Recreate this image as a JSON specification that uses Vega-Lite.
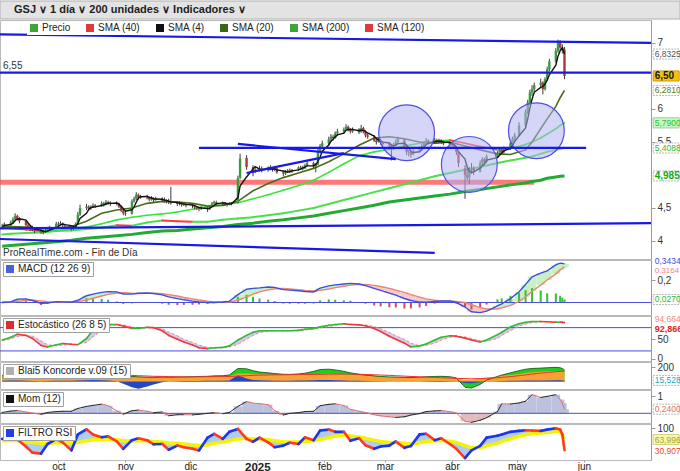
{
"$schema": "https://vega.github.io/schema/vega-lite/v6.json",
"padding": {"left": -11, "top": 0, "right": 0, "bottom": 0},
"background": "#ffffff",
"spacing": 1,
"bounds": "flush",
"center": false,
"resolve": {"scale": {"color": "independent", "fill": "independent"}, "legend": {"color": "independent", "fill": "independent"}},
"config": {
  "font": "Liberation Sans",
  "view": {"stroke": "#b9b9b9"},
  "scale": {"continuousPadding": 0},
  "axis": {"grid": false, "labelFontSize": 10, "labelColor": "#333333", "tickColor": "#9a9a9a", "domainColor": "#9a9a9a", "tickSize": 4, "labelPadding": 2, "labelFlush": false, "labelOverlap": false},
  "legend": {"orient": "none", "direction": "horizontal", "symbolType": "square", "symbolSize": 64, "symbolStrokeWidth": 0, "labelFontSize": 10, "labelColor": "#222222", "padding": 2, "labelOffset": 3}
},
"datasets": {
  "px": [
    {"d":"2024-09-05","o":4.20,"h":4.26,"l":4.18,"c":4.22},
    {"d":"2024-09-06","o":4.22,"h":4.28,"l":4.20,"c":4.25},
    {"d":"2024-09-09","o":4.25,"h":4.31,"l":4.23,"c":4.28},
    {"d":"2024-09-10","o":4.28,"h":4.36,"l":4.26,"c":4.33},
    {"d":"2024-09-11","o":4.33,"h":4.42,"l":4.30,"c":4.38},
    {"d":"2024-09-12","o":4.38,"h":4.40,"l":4.31,"c":4.34},
    {"d":"2024-09-13","o":4.34,"h":4.36,"l":4.27,"c":4.30},
    {"d":"2024-09-16","o":4.30,"h":4.31,"l":4.22,"c":4.24},
    {"d":"2024-09-17","o":4.24,"h":4.27,"l":4.19,"c":4.21},
    {"d":"2024-09-18","o":4.21,"h":4.24,"l":4.16,"c":4.19},
    {"d":"2024-09-19","o":4.19,"h":4.23,"l":4.15,"c":4.17},
    {"d":"2024-09-20","o":4.17,"h":4.19,"l":4.12,"c":4.15},
    {"d":"2024-09-23","o":4.15,"h":4.18,"l":4.11,"c":4.14},
    {"d":"2024-09-24","o":4.14,"h":4.17,"l":4.10,"c":4.13},
    {"d":"2024-09-25","o":4.13,"h":4.18,"l":4.12,"c":4.15},
    {"d":"2024-09-26","o":4.15,"h":4.21,"l":4.14,"c":4.18},
    {"d":"2024-09-27","o":4.18,"h":4.23,"l":4.16,"c":4.20},
    {"d":"2024-09-30","o":4.20,"h":4.29,"l":4.19,"c":4.26},
    {"d":"2024-10-01","o":4.26,"h":4.29,"l":4.22,"c":4.25},
    {"d":"2024-10-02","o":4.25,"h":4.30,"l":4.23,"c":4.27},
    {"d":"2024-10-03","o":4.27,"h":4.28,"l":4.21,"c":4.24},
    {"d":"2024-10-04","o":4.24,"h":4.26,"l":4.20,"c":4.23},
    {"d":"2024-10-07","o":4.23,"h":4.24,"l":4.16,"c":4.19},
    {"d":"2024-10-08","o":4.19,"h":4.23,"l":4.17,"c":4.21},
    {"d":"2024-10-09","o":4.21,"h":4.28,"l":4.20,"c":4.26},
    {"d":"2024-10-10","o":4.26,"h":4.44,"l":4.25,"c":4.40},
    {"d":"2024-10-11","o":4.40,"h":4.55,"l":4.38,"c":4.50},
    {"d":"2024-10-14","o":4.50,"h":4.56,"l":4.47,"c":4.52},
    {"d":"2024-10-15","o":4.52,"h":4.54,"l":4.46,"c":4.49},
    {"d":"2024-10-16","o":4.49,"h":4.54,"l":4.47,"c":4.51},
    {"d":"2024-10-17","o":4.51,"h":4.57,"l":4.50,"c":4.54},
    {"d":"2024-10-18","o":4.54,"h":4.56,"l":4.50,"c":4.53},
    {"d":"2024-10-21","o":4.53,"h":4.60,"l":4.52,"c":4.57},
    {"d":"2024-10-22","o":4.57,"h":4.59,"l":4.52,"c":4.55},
    {"d":"2024-10-23","o":4.55,"h":4.62,"l":4.54,"c":4.59},
    {"d":"2024-10-24","o":4.59,"h":4.61,"l":4.55,"c":4.58},
    {"d":"2024-10-25","o":4.58,"h":4.60,"l":4.53,"c":4.56},
    {"d":"2024-10-28","o":4.56,"h":4.60,"l":4.54,"c":4.57},
    {"d":"2024-10-29","o":4.57,"h":4.58,"l":4.50,"c":4.52},
    {"d":"2024-10-30","o":4.52,"h":4.54,"l":4.44,"c":4.46},
    {"d":"2024-10-31","o":4.46,"h":4.48,"l":4.39,"c":4.42},
    {"d":"2024-11-01","o":4.42,"h":4.45,"l":4.38,"c":4.41},
    {"d":"2024-11-04","o":4.41,"h":4.63,"l":4.40,"c":4.60},
    {"d":"2024-11-05","o":4.60,"h":4.67,"l":4.58,"c":4.64},
    {"d":"2024-11-06","o":4.64,"h":4.74,"l":4.62,"c":4.70},
    {"d":"2024-11-07","o":4.70,"h":4.72,"l":4.63,"c":4.66},
    {"d":"2024-11-08","o":4.66,"h":4.70,"l":4.64,"c":4.68},
    {"d":"2024-11-11","o":4.68,"h":4.70,"l":4.63,"c":4.66},
    {"d":"2024-11-12","o":4.66,"h":4.68,"l":4.60,"c":4.63},
    {"d":"2024-11-13","o":4.63,"h":4.68,"l":4.61,"c":4.65},
    {"d":"2024-11-14","o":4.65,"h":4.66,"l":4.59,"c":4.62},
    {"d":"2024-11-15","o":4.62,"h":4.67,"l":4.61,"c":4.64},
    {"d":"2024-11-18","o":4.64,"h":4.66,"l":4.59,"c":4.62},
    {"d":"2024-11-19","o":4.62,"h":4.66,"l":4.58,"c":4.60},
    {"d":"2024-11-20","o":4.60,"h":4.63,"l":4.57,"c":4.60},
    {"d":"2024-11-21","o":4.60,"h":4.64,"l":4.56,"c":4.59},
    {"d":"2024-11-22","o":4.59,"h":4.82,"l":4.55,"c":4.58},
    {"d":"2024-11-25","o":4.58,"h":4.60,"l":4.53,"c":4.56},
    {"d":"2024-11-26","o":4.56,"h":4.60,"l":4.54,"c":4.57},
    {"d":"2024-11-27","o":4.57,"h":4.59,"l":4.52,"c":4.55},
    {"d":"2024-11-28","o":4.55,"h":4.58,"l":4.53,"c":4.56},
    {"d":"2024-11-29","o":4.56,"h":4.57,"l":4.51,"c":4.54},
    {"d":"2024-12-02","o":4.54,"h":4.56,"l":4.50,"c":4.53},
    {"d":"2024-12-03","o":4.53,"h":4.55,"l":4.48,"c":4.51},
    {"d":"2024-12-04","o":4.51,"h":4.53,"l":4.47,"c":4.50},
    {"d":"2024-12-05","o":4.50,"h":4.52,"l":4.45,"c":4.49},
    {"d":"2024-12-06","o":4.49,"h":4.53,"l":4.47,"c":4.50},
    {"d":"2024-12-09","o":4.50,"h":4.51,"l":4.44,"c":4.48},
    {"d":"2024-12-10","o":4.48,"h":4.54,"l":4.47,"c":4.52},
    {"d":"2024-12-11","o":4.52,"h":4.59,"l":4.51,"c":4.57},
    {"d":"2024-12-12","o":4.57,"h":4.61,"l":4.55,"c":4.59},
    {"d":"2024-12-13","o":4.59,"h":4.61,"l":4.55,"c":4.58},
    {"d":"2024-12-16","o":4.58,"h":4.60,"l":4.54,"c":4.57},
    {"d":"2024-12-17","o":4.57,"h":4.59,"l":4.53,"c":4.56},
    {"d":"2024-12-18","o":4.56,"h":4.58,"l":4.52,"c":4.55},
    {"d":"2024-12-19","o":4.55,"h":4.59,"l":4.54,"c":4.57},
    {"d":"2024-12-20","o":4.57,"h":4.59,"l":4.54,"c":4.56},
    {"d":"2024-12-23","o":4.58,"h":4.99,"l":4.57,"c":4.95},
    {"d":"2024-12-24","o":4.96,"h":5.32,"l":4.94,"c":5.25},
    {"d":"2024-12-27","o":5.26,"h":5.30,"l":5.08,"c":5.12},
    {"d":"2024-12-30","o":5.12,"h":5.15,"l":4.98,"c":5.05},
    {"d":"2024-12-31","o":5.05,"h":5.12,"l":5.03,"c":5.08},
    {"d":"2025-01-02","o":5.08,"h":5.14,"l":5.05,"c":5.10},
    {"d":"2025-01-03","o":5.10,"h":5.13,"l":5.04,"c":5.07},
    {"d":"2025-01-06","o":5.07,"h":5.13,"l":5.05,"c":5.11},
    {"d":"2025-01-07","o":5.11,"h":5.15,"l":5.07,"c":5.09},
    {"d":"2025-01-08","o":5.09,"h":5.12,"l":5.05,"c":5.08},
    {"d":"2025-01-09","o":5.08,"h":5.13,"l":5.06,"c":5.10},
    {"d":"2025-01-10","o":5.10,"h":5.11,"l":5.02,"c":5.04},
    {"d":"2025-01-13","o":5.04,"h":5.06,"l":4.98,"c":5.02},
    {"d":"2025-01-14","o":5.02,"h":5.07,"l":5.00,"c":5.05},
    {"d":"2025-01-15","o":5.05,"h":5.09,"l":5.03,"c":5.07},
    {"d":"2025-01-16","o":5.07,"h":5.10,"l":5.03,"c":5.05},
    {"d":"2025-01-17","o":5.05,"h":5.09,"l":5.03,"c":5.08},
    {"d":"2025-01-20","o":5.08,"h":5.13,"l":5.06,"c":5.11},
    {"d":"2025-01-21","o":5.11,"h":5.14,"l":5.08,"c":5.12},
    {"d":"2025-01-22","o":5.12,"h":5.14,"l":5.07,"c":5.10},
    {"d":"2025-01-23","o":5.10,"h":5.17,"l":5.09,"c":5.15},
    {"d":"2025-01-24","o":5.15,"h":5.21,"l":5.13,"c":5.18},
    {"d":"2025-01-27","o":5.18,"h":5.20,"l":5.10,"c":5.13},
    {"d":"2025-01-28","o":5.13,"h":5.18,"l":5.04,"c":5.16},
    {"d":"2025-01-29","o":5.16,"h":5.40,"l":5.15,"c":5.36},
    {"d":"2025-01-30","o":5.36,"h":5.47,"l":5.33,"c":5.44},
    {"d":"2025-01-31","o":5.44,"h":5.52,"l":5.40,"c":5.48},
    {"d":"2025-02-03","o":5.48,"h":5.58,"l":5.45,"c":5.54},
    {"d":"2025-02-04","o":5.54,"h":5.62,"l":5.52,"c":5.58},
    {"d":"2025-02-05","o":5.58,"h":5.61,"l":5.52,"c":5.56},
    {"d":"2025-02-06","o":5.56,"h":5.66,"l":5.55,"c":5.63},
    {"d":"2025-02-07","o":5.63,"h":5.70,"l":5.60,"c":5.66},
    {"d":"2025-02-10","o":5.66,"h":5.72,"l":5.63,"c":5.69},
    {"d":"2025-02-11","o":5.69,"h":5.77,"l":5.67,"c":5.73},
    {"d":"2025-02-12","o":5.73,"h":5.75,"l":5.66,"c":5.68},
    {"d":"2025-02-13","o":5.68,"h":5.71,"l":5.63,"c":5.66},
    {"d":"2025-02-14","o":5.66,"h":5.72,"l":5.64,"c":5.69},
    {"d":"2025-02-17","o":5.69,"h":5.71,"l":5.62,"c":5.65},
    {"d":"2025-02-18","o":5.65,"h":5.76,"l":5.64,"c":5.71},
    {"d":"2025-02-19","o":5.71,"h":5.73,"l":5.63,"c":5.66},
    {"d":"2025-02-20","o":5.66,"h":5.68,"l":5.57,"c":5.60},
    {"d":"2025-02-21","o":5.60,"h":5.63,"l":5.55,"c":5.58},
    {"d":"2025-02-24","o":5.58,"h":5.60,"l":5.50,"c":5.52},
    {"d":"2025-02-25","o":5.52,"h":5.55,"l":5.46,"c":5.50},
    {"d":"2025-02-26","o":5.50,"h":5.56,"l":5.49,"c":5.53},
    {"d":"2025-02-27","o":5.53,"h":5.55,"l":5.46,"c":5.49},
    {"d":"2025-02-28","o":5.49,"h":5.51,"l":5.44,"c":5.47},
    {"d":"2025-03-03","o":5.47,"h":5.50,"l":5.38,"c":5.45},
    {"d":"2025-03-04","o":5.45,"h":5.47,"l":5.22,"c":5.40},
    {"d":"2025-03-05","o":5.40,"h":5.49,"l":5.38,"c":5.46},
    {"d":"2025-03-06","o":5.46,"h":5.54,"l":5.44,"c":5.50},
    {"d":"2025-03-07","o":5.50,"h":5.58,"l":5.47,"c":5.54},
    {"d":"2025-03-10","o":5.54,"h":5.55,"l":5.40,"c":5.42},
    {"d":"2025-03-11","o":5.42,"h":5.44,"l":5.30,"c":5.35},
    {"d":"2025-03-12","o":5.35,"h":5.38,"l":5.28,"c":5.34},
    {"d":"2025-03-13","o":5.34,"h":5.36,"l":5.26,"c":5.31},
    {"d":"2025-03-14","o":5.31,"h":5.39,"l":5.30,"c":5.36},
    {"d":"2025-03-17","o":5.36,"h":5.43,"l":5.34,"c":5.40},
    {"d":"2025-03-18","o":5.40,"h":5.47,"l":5.38,"c":5.44},
    {"d":"2025-03-19","o":5.44,"h":5.50,"l":5.42,"c":5.47},
    {"d":"2025-03-20","o":5.47,"h":5.56,"l":5.45,"c":5.52},
    {"d":"2025-03-21","o":5.52,"h":5.54,"l":5.46,"c":5.49},
    {"d":"2025-03-24","o":5.49,"h":5.56,"l":5.48,"c":5.53},
    {"d":"2025-03-25","o":5.53,"h":5.55,"l":5.47,"c":5.50},
    {"d":"2025-03-26","o":5.50,"h":5.55,"l":5.48,"c":5.52},
    {"d":"2025-03-27","o":5.52,"h":5.54,"l":5.47,"c":5.50},
    {"d":"2025-03-28","o":5.50,"h":5.52,"l":5.45,"c":5.48},
    {"d":"2025-03-31","o":5.48,"h":5.50,"l":5.42,"c":5.47},
    {"d":"2025-04-01","o":5.47,"h":5.50,"l":5.42,"c":5.45},
    {"d":"2025-04-02","o":5.45,"h":5.48,"l":5.40,"c":5.43},
    {"d":"2025-04-03","o":5.43,"h":5.44,"l":5.30,"c":5.35},
    {"d":"2025-04-04","o":5.35,"h":5.36,"l":5.12,"c":5.18},
    {"d":"2025-04-07","o":5.10,"h":5.15,"l":4.64,"c":5.00},
    {"d":"2025-04-08","o":5.00,"h":5.12,"l":4.92,"c":4.96},
    {"d":"2025-04-09","o":4.96,"h":5.12,"l":4.86,"c":5.08},
    {"d":"2025-04-10","o":5.08,"h":5.18,"l":5.02,"c":5.10},
    {"d":"2025-04-11","o":5.10,"h":5.13,"l":5.00,"c":5.05},
    {"d":"2025-04-14","o":5.05,"h":5.22,"l":5.04,"c":5.18},
    {"d":"2025-04-15","o":5.18,"h":5.27,"l":5.15,"c":5.24},
    {"d":"2025-04-16","o":5.24,"h":5.26,"l":5.15,"c":5.20},
    {"d":"2025-04-17","o":5.20,"h":5.31,"l":5.18,"c":5.28},
    {"d":"2025-04-22","o":5.28,"h":5.36,"l":5.26,"c":5.33},
    {"d":"2025-04-23","o":5.33,"h":5.41,"l":5.31,"c":5.38},
    {"d":"2025-04-24","o":5.38,"h":5.40,"l":5.31,"c":5.35},
    {"d":"2025-04-25","o":5.35,"h":5.43,"l":5.33,"c":5.40},
    {"d":"2025-04-28","o":5.40,"h":5.51,"l":5.38,"c":5.48},
    {"d":"2025-04-29","o":5.48,"h":5.58,"l":5.46,"c":5.55},
    {"d":"2025-04-30","o":5.55,"h":5.64,"l":5.52,"c":5.60},
    {"d":"2025-05-02","o":5.60,"h":5.80,"l":5.58,"c":5.75},
    {"d":"2025-05-05","o":5.75,"h":5.99,"l":5.73,"c":5.95},
    {"d":"2025-05-06","o":5.95,"h":6.14,"l":5.92,"c":6.10},
    {"d":"2025-05-07","o":6.10,"h":6.29,"l":6.06,"c":6.25},
    {"d":"2025-05-08","o":6.25,"h":6.36,"l":6.20,"c":6.30},
    {"d":"2025-05-09","o":6.30,"h":6.40,"l":6.26,"c":6.36},
    {"d":"2025-05-12","o":6.36,"h":6.46,"l":6.32,"c":6.40},
    {"d":"2025-05-13","o":6.40,"h":6.42,"l":6.22,"c":6.30},
    {"d":"2025-05-14","o":6.30,"h":6.48,"l":6.28,"c":6.45},
    {"d":"2025-05-15","o":6.45,"h":6.64,"l":6.43,"c":6.60},
    {"d":"2025-05-16","o":6.60,"h":6.76,"l":6.57,"c":6.72},
    {"d":"2025-05-19","o":6.72,"h":6.92,"l":6.70,"c":6.88},
    {"d":"2025-05-20","o":6.88,"h":7.05,"l":6.85,"c":7.00},
    {"d":"2025-05-21","o":7.00,"h":7.04,"l":6.88,"c":6.93},
    {"d":"2025-05-22","o":6.93,"h":6.98,"l":6.84,"c":6.90},
    {"d":"2025-05-23","o":6.90,"h":6.94,"l":6.45,"c":6.50}
  ],
  "sm": [
    {"d":"2024-09-05","s20":4.22,"s40":4.20,"s120":4.10,"s200":3.92},
    {"d":"2024-09-09","s20":4.22,"s40":4.19,"s120":4.11,"s200":3.93},
    {"d":"2024-09-16","s20":4.21,"s40":4.17,"s120":4.12,"s200":3.95},
    {"d":"2024-09-23","s20":4.19,"s40":4.15,"s120":4.13,"s200":3.97},
    {"d":"2024-09-30","s20":4.19,"s40":4.16,"s120":4.15,"s200":3.99},
    {"d":"2024-10-07","s20":4.22,"s40":4.18,"s120":4.16,"s200":4.01},
    {"d":"2024-10-14","s20":4.30,"s40":4.21,"s120":4.18,"s200":4.04},
    {"d":"2024-10-21","s20":4.42,"s40":4.26,"s120":4.20,"s200":4.06},
    {"d":"2024-10-28","s20":4.47,"s40":4.32,"s120":4.24,"s200":4.08},
    {"d":"2024-11-04","s20":4.50,"s40":4.36,"s120":4.23,"s200":4.10},
    {"d":"2024-11-11","s20":4.57,"s40":4.39,"s120":4.28,"s200":4.13},
    {"d":"2024-11-18","s20":4.60,"s40":4.41,"s120":4.31,"s200":4.15},
    {"d":"2024-11-25","s20":4.59,"s40":4.44,"s120":4.30,"s200":4.16},
    {"d":"2024-12-02","s20":4.57,"s40":4.48,"s120":4.29,"s200":4.18},
    {"d":"2024-12-09","s20":4.53,"s40":4.52,"s120":4.29,"s200":4.20},
    {"d":"2024-12-16","s20":4.54,"s40":4.55,"s120":4.32,"s200":4.22},
    {"d":"2024-12-23","s20":4.60,"s40":4.58,"s120":4.34,"s200":4.25},
    {"d":"2024-12-30","s20":4.76,"s40":4.64,"s120":4.36,"s200":4.27},
    {"d":"2025-01-06","s20":4.87,"s40":4.70,"s120":4.39,"s200":4.30},
    {"d":"2025-01-13","s20":4.96,"s40":4.77,"s120":4.42,"s200":4.32},
    {"d":"2025-01-20","s20":5.03,"s40":4.84,"s120":4.46,"s200":4.35},
    {"d":"2025-01-27","s20":5.10,"s40":4.92,"s120":4.50,"s200":4.38},
    {"d":"2025-02-03","s20":5.20,"s40":5.04,"s120":4.56,"s200":4.42},
    {"d":"2025-02-10","s20":5.32,"s40":5.17,"s120":4.62,"s200":4.46},
    {"d":"2025-02-17","s20":5.45,"s40":5.29,"s120":4.68,"s200":4.50},
    {"d":"2025-02-24","s20":5.56,"s40":5.35,"s120":4.74,"s200":4.54},
    {"d":"2025-03-03","s20":5.58,"s40":5.39,"s120":4.80,"s200":4.59},
    {"d":"2025-03-10","s20":5.55,"s40":5.44,"s120":4.86,"s200":4.62},
    {"d":"2025-03-17","s20":5.50,"s40":5.48,"s120":4.92,"s200":4.65},
    {"d":"2025-03-24","s20":5.48,"s40":5.51,"s120":4.98,"s200":4.68},
    {"d":"2025-03-31","s20":5.50,"s40":5.53,"s120":5.03,"s200":4.71},
    {"d":"2025-04-07","s20":5.44,"s40":5.48,"s120":5.08,"s200":4.75},
    {"d":"2025-04-14","s20":5.38,"s40":5.43,"s120":5.12,"s200":4.78},
    {"d":"2025-04-22","s20":5.32,"s40":5.38,"s120":5.18,"s200":4.82},
    {"d":"2025-04-28","s20":5.31,"s40":5.40,"s120":5.22,"s200":4.85},
    {"d":"2025-05-05","s20":5.38,"s40":5.46,"s120":5.26,"s200":4.88},
    {"d":"2025-05-08","s20":5.50,"s40":5.50,"s120":5.28,"s200":4.90},
    {"d":"2025-05-12","s20":5.70,"s40":5.56,"s120":5.32,"s200":4.92},
    {"d":"2025-05-15","s20":5.85,"s40":5.62,"s120":5.35,"s200":4.95},
    {"d":"2025-05-19","s20":6.04,"s40":5.70,"s120":5.38,"s200":4.97},
    {"d":"2025-05-21","s20":6.17,"s40":5.75,"s120":5.40,"s200":4.98},
    {"d":"2025-05-23","s20":6.281,"s40":5.79,"s120":5.4088,"s200":4.985}
  ],
  "tl": [
    {"id":"a","d":"2024-09-04","v":7.13},{"id":"a","d":"2025-07-02","v":7.0},
    {"id":"b","d":"2024-09-04","v":6.55},{"id":"b","d":"2025-07-02","v":6.55},
    {"id":"c","d":"2024-12-05","v":5.41},{"id":"c","d":"2025-06-02","v":5.41},
    {"id":"e","d":"2024-12-23","v":5.47},{"id":"e","d":"2025-03-06","v":5.24},
    {"id":"f","d":"2024-12-27","v":5.03},{"id":"f","d":"2025-02-10","v":5.33},
    {"id":"g","d":"2024-09-04","v":4.19},{"id":"g","d":"2025-07-02","v":4.27},
    {"id":"h","d":"2024-09-04","v":4.03},{"id":"h","d":"2025-03-24","v":3.82}
  ],
  "ind": [
    {"d":"2024-09-05","m":0.000,"s":0.005,"h":-0.005,"k":48,"kd":46,"mo":0.05,"r":66,"rs":60,"kg":85,"ko":70,"kb":12,"kr":60},
    {"d":"2024-09-09","m":0.005,"s":0.004,"h":0.001,"k":55,"kd":51,"mo":0.13,"r":68,"rs":61,"kg":90,"ko":75,"kb":14,"kr":62},
    {"d":"2024-09-12","m":0.030,"s":0.010,"h":0.020,"k":63,"kd":57,"mo":0.16,"r":64,"rs":61,"kg":100,"ko":78,"kb":15,"kr":65},
    {"d":"2024-09-16","m":0.032,"s":0.018,"h":0.014,"k":60,"kd":60,"mo":0.08,"r":42,"rs":58,"kg":95,"ko":74,"kb":12,"kr":68},
    {"d":"2024-09-19","m":0.018,"s":0.022,"h":-0.004,"k":52,"kd":58,"mo":0.02,"r":23,"rs":55,"kg":80,"ko":65,"kb":8,"kr":68},
    {"d":"2024-09-23","m":-0.008,"s":0.015,"h":-0.023,"k":34,"kd":46,"mo":-0.06,"r":20,"rs":52,"kg":70,"ko":58,"kb":5,"kr":66},
    {"d":"2024-09-26","m":-0.005,"s":0.008,"h":-0.013,"k":30,"kd":36,"mo":0.05,"r":50,"rs":52,"kg":75,"ko":60,"kb":6,"kr":64},
    {"d":"2024-09-30","m":0.008,"s":0.004,"h":0.004,"k":36,"kd":33,"mo":0.10,"r":65,"rs":54,"kg":90,"ko":68,"kb":10,"kr":64},
    {"d":"2024-10-03","m":0.006,"s":0.005,"h":0.001,"k":39,"kd":35,"mo":0.12,"r":55,"rs":55,"kg":95,"ko":70,"kb":12,"kr":65},
    {"d":"2024-10-07","m":0.003,"s":0.005,"h":-0.002,"k":37,"kd":37,"mo":0.12,"r":30,"rs":53,"kg":90,"ko":66,"kb":10,"kr":66},
    {"d":"2024-10-10","m":0.020,"s":0.008,"h":0.012,"k":36,"kd":37,"mo":0.28,"r":80,"rs":55,"kg":130,"ko":85,"kb":14,"kr":68},
    {"d":"2024-10-14","m":0.060,"s":0.022,"h":0.038,"k":52,"kd":42,"mo":0.40,"r":96,"rs":60,"kg":160,"ko":98,"kb":18,"kr":72},
    {"d":"2024-10-17","m":0.075,"s":0.038,"h":0.037,"k":74,"kd":56,"mo":0.46,"r":80,"rs":63,"kg":175,"ko":104,"kb":20,"kr":78},
    {"d":"2024-10-21","m":0.090,"s":0.058,"h":0.032,"k":86,"kd":74,"mo":0.53,"r":71,"rs":64,"kg":170,"ko":106,"kb":18,"kr":84},
    {"d":"2024-10-24","m":0.097,"s":0.072,"h":0.025,"k":88,"kd":84,"mo":0.44,"r":74,"rs":65,"kg":150,"ko":103,"kb":15,"kr":88},
    {"d":"2024-10-28","m":0.095,"s":0.085,"h":0.010,"k":88,"kd":87,"mo":0.15,"r":58,"rs":63,"kg":120,"ko":95,"kb":5,"kr":90},
    {"d":"2024-10-31","m":0.075,"s":0.087,"h":-0.012,"k":84,"kd":87,"mo":-0.05,"r":35,"rs":60,"kg":80,"ko":72,"kb":-30,"kr":88},
    {"d":"2024-11-04","m":0.075,"s":0.082,"h":-0.007,"k":78,"kd":82,"mo":0.15,"r":62,"rs":59,"kg":70,"ko":60,"kb":-80,"kr":84},
    {"d":"2024-11-07","m":0.082,"s":0.080,"h":0.002,"k":78,"kd":79,"mo":0.19,"r":68,"rs":60,"kg":65,"ko":58,"kb":-100,"kr":80},
    {"d":"2024-11-11","m":0.085,"s":0.081,"h":0.004,"k":81,"kd":79,"mo":0.12,"r":62,"rs":60,"kg":60,"ko":55,"kb":-70,"kr":76},
    {"d":"2024-11-14","m":0.080,"s":0.082,"h":-0.002,"k":80,"kd":80,"mo":0.04,"r":49,"rs":58,"kg":58,"ko":55,"kb":-40,"kr":72},
    {"d":"2024-11-18","m":0.068,"s":0.078,"h":-0.010,"k":72,"kd":77,"mo":0.08,"r":50,"rs":56,"kg":62,"ko":58,"kb":-10,"kr":70},
    {"d":"2024-11-21","m":0.050,"s":0.070,"h":-0.020,"k":60,"kd":69,"mo":-0.14,"r":32,"rs":53,"kg":60,"ko":56,"kb":0,"kr":68},
    {"d":"2024-11-25","m":0.035,"s":0.058,"h":-0.023,"k":50,"kd":59,"mo":-0.08,"r":45,"rs":52,"kg":62,"ko":60,"kb":5,"kr":66},
    {"d":"2024-11-28","m":0.024,"s":0.045,"h":-0.021,"k":43,"kd":50,"mo":-0.08,"r":40,"rs":50,"kg":64,"ko":62,"kb":6,"kr":64},
    {"d":"2024-12-02","m":0.012,"s":0.032,"h":-0.020,"k":35,"kd":42,"mo":-0.09,"r":35,"rs":47,"kg":66,"ko":64,"kb":8,"kr":64},
    {"d":"2024-12-05","m":0.005,"s":0.022,"h":-0.017,"k":28,"kd":35,"mo":-0.06,"r":30,"rs":45,"kg":70,"ko":66,"kb":8,"kr":65},
    {"d":"2024-12-09","m":0.000,"s":0.012,"h":-0.012,"k":26,"kd":29,"mo":0.00,"r":70,"rs":47,"kg":72,"ko":68,"kb":10,"kr":66},
    {"d":"2024-12-12","m":0.000,"s":0.006,"h":-0.006,"k":28,"kd":27,"mo":0.04,"r":82,"rs":52,"kg":78,"ko":70,"kb":10,"kr":67},
    {"d":"2024-12-16","m":0.004,"s":0.004,"h":0.000,"k":29,"kd":28,"mo":-0.02,"r":66,"rs":56,"kg":80,"ko":72,"kb":12,"kr":68},
    {"d":"2024-12-19","m":0.010,"s":0.005,"h":0.005,"k":33,"kd":30,"mo":0.05,"r":88,"rs":60,"kg":90,"ko":74,"kb":15,"kr":70},
    {"d":"2024-12-23","m":0.070,"s":0.020,"h":0.050,"k":48,"kd":37,"mo":0.40,"r":97,"rs":66,"kg":180,"ko":110,"kb":85,"kr":75},
    {"d":"2024-12-27","m":0.118,"s":0.050,"h":0.068,"k":60,"kd":50,"mo":0.68,"r":66,"rs":68,"kg":175,"ko":112,"kb":40,"kr":80},
    {"d":"2024-12-30","m":0.126,"s":0.075,"h":0.051,"k":68,"kd":60,"mo":0.59,"r":57,"rs":66,"kg":150,"ko":105,"kb":22,"kr":85},
    {"d":"2025-01-02","m":0.130,"s":0.095,"h":0.035,"k":72,"kd":67,"mo":0.56,"r":70,"rs":65,"kg":130,"ko":100,"kb":18,"kr":88},
    {"d":"2025-01-06","m":0.138,"s":0.112,"h":0.026,"k":72,"kd":71,"mo":0.50,"r":55,"rs":63,"kg":120,"ko":96,"kb":15,"kr":90},
    {"d":"2025-01-09","m":0.135,"s":0.122,"h":0.013,"k":72,"kd":72,"mo":0.15,"r":40,"rs":60,"kg":110,"ko":92,"kb":12,"kr":92},
    {"d":"2025-01-13","m":0.115,"s":0.124,"h":-0.009,"k":72,"kd":72,"mo":-0.10,"r":45,"rs":57,"kg":100,"ko":90,"kb":10,"kr":93},
    {"d":"2025-01-16","m":0.110,"s":0.120,"h":-0.010,"k":72,"kd":72,"mo":0.00,"r":54,"rs":56,"kg":98,"ko":90,"kb":12,"kr":94},
    {"d":"2025-01-20","m":0.104,"s":0.114,"h":-0.010,"k":73,"kd":72,"mo":0.04,"r":50,"rs":56,"kg":105,"ko":92,"kb":14,"kr":95},
    {"d":"2025-01-23","m":0.098,"s":0.108,"h":-0.010,"k":76,"kd":74,"mo":0.10,"r":71,"rs":58,"kg":115,"ko":96,"kb":15,"kr":96},
    {"d":"2025-01-27","m":0.094,"s":0.102,"h":-0.008,"k":78,"kd":76,"mo":0.12,"r":62,"rs":60,"kg":140,"ko":100,"kb":18,"kr":98},
    {"d":"2025-01-30","m":0.128,"s":0.108,"h":0.020,"k":82,"kd":79,"mo":0.44,"r":92,"rs":64,"kg":165,"ko":108,"kb":22,"kr":100},
    {"d":"2025-02-03","m":0.148,"s":0.120,"h":0.028,"k":86,"kd":83,"mo":0.52,"r":95,"rs":70,"kg":170,"ko":110,"kb":20,"kr":102},
    {"d":"2025-02-06","m":0.157,"s":0.132,"h":0.025,"k":88,"kd":86,"mo":0.55,"r":88,"rs":75,"kg":160,"ko":106,"kb":18,"kr":103},
    {"d":"2025-02-10","m":0.165,"s":0.145,"h":0.020,"k":90,"kd":88,"mo":0.45,"r":88,"rs":78,"kg":140,"ko":100,"kb":15,"kr":103},
    {"d":"2025-02-13","m":0.170,"s":0.155,"h":0.015,"k":88,"kd":89,"mo":0.23,"r":60,"rs":75,"kg":120,"ko":95,"kb":12,"kr":102},
    {"d":"2025-02-17","m":0.165,"s":0.161,"h":0.004,"k":87,"kd":88,"mo":0.12,"r":68,"rs":72,"kg":100,"ko":88,"kb":10,"kr":100},
    {"d":"2025-02-20","m":0.150,"s":0.160,"h":-0.010,"k":85,"kd":87,"mo":0.05,"r":46,"rs":68,"kg":90,"ko":80,"kb":8,"kr":97},
    {"d":"2025-02-24","m":0.126,"s":0.152,"h":-0.026,"k":78,"kd":83,"mo":-0.08,"r":35,"rs":62,"kg":78,"ko":72,"kb":5,"kr":93},
    {"d":"2025-02-27","m":0.108,"s":0.142,"h":-0.034,"k":70,"kd":77,"mo":-0.15,"r":42,"rs":58,"kg":70,"ko":66,"kb":3,"kr":89},
    {"d":"2025-03-03","m":0.084,"s":0.126,"h":-0.042,"k":58,"kd":68,"mo":-0.20,"r":45,"rs":55,"kg":64,"ko":60,"kb":2,"kr":85},
    {"d":"2025-03-06","m":0.066,"s":0.110,"h":-0.044,"k":50,"kd":59,"mo":-0.24,"r":58,"rs":55,"kg":62,"ko":58,"kb":2,"kr":80},
    {"d":"2025-03-10","m":0.036,"s":0.090,"h":-0.054,"k":40,"kd":50,"mo":-0.20,"r":38,"rs":52,"kg":58,"ko":56,"kb":1,"kr":75},
    {"d":"2025-03-13","m":0.018,"s":0.070,"h":-0.052,"k":30,"kd":40,"mo":-0.10,"r":44,"rs":50,"kg":55,"ko":53,"kb":0,"kr":70},
    {"d":"2025-03-17","m":0.004,"s":0.048,"h":-0.044,"k":33,"kd":33,"mo":-0.02,"r":80,"rs":54,"kg":60,"ko":56,"kb":2,"kr":65},
    {"d":"2025-03-20","m":0.002,"s":0.032,"h":-0.030,"k":38,"kd":34,"mo":0.10,"r":82,"rs":58,"kg":66,"ko":60,"kb":4,"kr":60},
    {"d":"2025-03-24","m":0.010,"s":0.020,"h":-0.010,"k":48,"kd":40,"mo":0.14,"r":62,"rs":60,"kg":70,"ko":62,"kb":6,"kr":56},
    {"d":"2025-03-27","m":0.013,"s":0.015,"h":-0.002,"k":55,"kd":48,"mo":0.16,"r":68,"rs":61,"kg":72,"ko":64,"kb":7,"kr":52},
    {"d":"2025-03-31","m":0.013,"s":0.013,"h":0.000,"k":59,"kd":55,"mo":0.10,"r":50,"rs":59,"kg":66,"ko":60,"kb":5,"kr":48},
    {"d":"2025-04-03","m":0.000,"s":0.010,"h":-0.010,"k":58,"kd":58,"mo":0.02,"r":35,"rs":55,"kg":50,"ko":50,"kb":0,"kr":44},
    {"d":"2025-04-07","m":-0.040,"s":0.000,"h":-0.040,"k":53,"kd":56,"mo":-0.46,"r":6,"rs":45,"kg":-80,"ko":20,"kb":-20,"kr":40},
    {"d":"2025-04-10","m":-0.082,"s":-0.020,"h":-0.062,"k":48,"kd":52,"mo":-0.52,"r":30,"rs":38,"kg":-90,"ko":25,"kb":-25,"kr":38},
    {"d":"2025-04-14","m":-0.090,"s":-0.045,"h":-0.045,"k":43,"kd":46,"mo":-0.40,"r":44,"rs":38,"kg":-40,"ko":40,"kb":-10,"kr":40},
    {"d":"2025-04-17","m":-0.076,"s":-0.058,"h":-0.018,"k":48,"kd":45,"mo":-0.25,"r":70,"rs":44,"kg":20,"ko":55,"kb":0,"kr":44},
    {"d":"2025-04-22","m":-0.030,"s":-0.058,"h":0.028,"k":62,"kd":52,"mo":0.10,"r":76,"rs":52,"kg":70,"ko":70,"kb":5,"kr":52},
    {"d":"2025-04-24","m":-0.012,"s":-0.048,"h":0.036,"k":68,"kd":60,"mo":0.55,"r":80,"rs":58,"kg":90,"ko":78,"kb":8,"kr":58},
    {"d":"2025-04-28","m":0.035,"s":-0.025,"h":0.060,"k":82,"kd":72,"mo":0.54,"r":88,"rs":66,"kg":120,"ko":90,"kb":10,"kr":68},
    {"d":"2025-05-02","m":0.095,"s":0.010,"h":0.085,"k":90,"kd":84,"mo":0.60,"r":91,"rs":74,"kg":150,"ko":105,"kb":12,"kr":80},
    {"d":"2025-05-05","m":0.160,"s":0.050,"h":0.110,"k":94,"kd":89,"mo":0.70,"r":93,"rs":79,"kg":170,"ko":118,"kb":14,"kr":92},
    {"d":"2025-05-08","m":0.228,"s":0.100,"h":0.128,"k":96,"kd":93,"mo":1.08,"r":92,"rs":82,"kg":180,"ko":128,"kb":15,"kr":104},
    {"d":"2025-05-12","m":0.262,"s":0.155,"h":0.107,"k":96,"kd":95,"mo":0.92,"r":91,"rs":84,"kg":185,"ko":135,"kb":15,"kr":115},
    {"d":"2025-05-15","m":0.282,"s":0.200,"h":0.082,"k":95,"kd":95.5,"mo":0.98,"r":95,"rs":86,"kg":190,"ko":140,"kb":15,"kr":125},
    {"d":"2025-05-19","m":0.335,"s":0.255,"h":0.080,"k":94,"kd":95,"mo":1.08,"r":99,"rs":88,"kg":195,"ko":145,"kb":16,"kr":135},
    {"d":"2025-05-21","m":0.350,"s":0.290,"h":0.060,"k":94,"kd":94.8,"mo":0.80,"r":95,"rs":88,"kg":190,"ko":140,"kb":16,"kr":140},
    {"d":"2025-05-22","m":0.348,"s":0.305,"h":0.043,"k":93.5,"kd":94.7,"mo":0.60,"r":80,"rs":80,"kg":180,"ko":135,"kb":15.5,"kr":142},
    {"d":"2025-05-23","m":0.3434,"s":0.3164,"h":0.027,"k":92.866,"kd":94.664,"mo":0.24,"r":30.907,"rs":63.996,"kg":160,"ko":125,"kb":15.528,"kr":143}
  ]
},
"vconcat": [
  {
    "width": 651, "height": 18,
    "view": {"stroke": null},
    "layer": [
      {"data": {"values": [{}]},
       "mark": {"type": "rect", "color": "#e3e3e3", "stroke": "#b0b0b0", "strokeWidth": 1},
       "encoding": {
         "x": {"datum": 0, "type": "quantitative", "scale": {"domain": [0, 1], "padding": 0}, "axis": null},
         "x2": {"datum": 1.0446},
         "y": {"datum": 0, "type": "quantitative", "scale": {"domain": [0, 1], "padding": 0}, "axis": null},
         "y2": {"datum": 1}}},
      {"data": {"values": [{"t": "GSJ ∨   1 día ∨   200 unidades ∨            Indicadores ∨"}]},
       "mark": {"type": "text", "align": "left", "baseline": "middle", "dx": 14, "fontSize": 11, "fontWeight": "bold", "color": "#1e1e1e"},
       "encoding": {
         "text": {"field": "t"},
         "x": {"datum": 0, "type": "quantitative", "axis": null},
         "y": {"datum": 0.5, "type": "quantitative", "axis": null}}}
    ]
  },
  {
    "width": 651, "height": 239,
    "layer": [
      {"data": {"values": [{"n": "Precio"}]}, "mark": {"type": "point", "filled": true, "size": 0, "opacity": 1},
       "encoding": {"color": {"field": "n", "type": "nominal",
         "scale": {"domain": ["Precio", "SMA (40)", "SMA (4)", "SMA (20)", "SMA (200)", "SMA (120)"], "range": ["#3aa63a", "#e03b3b", "#111111", "#3a6b14", "#3aa63a", "#e03b3b"]},
         "legend": {"title": null, "legendX": 27, "legendY": 1, "columnPadding": 14, "fillColor": "#ffffff"}}}},
      {"data": {"values": [{"d": "2024-09-04", "v": 4.89}, {"d": "2025-05-09", "v": 4.89}]},
       "mark": {"type": "line", "color": "#ff4a4a", "strokeWidth": 5, "opacity": 0.75},
       "encoding": {
         "x": {"field": "d", "type": "temporal", "scale": {"domain": [{"year": 2024, "month": "sep", "date": 4}, {"year": 2025, "month": "jul", "date": 2}], "nice": false, "padding": 0}, "axis": null},
         "y": {"field": "v", "type": "quantitative", "scale": {"domain": [3.727, 7.348], "zero": false, "nice": false, "padding": 0},
               "axis": {"orient": "right", "title": null, "values": [4, 4.5, 5.5, 6, 7], "labelExpr": "replace(format(datum.value, '~g'), '.', ',')"}}}},
      {"data": {"name": "sm"}, "mark": {"type": "line", "color": "#22aa33", "strokeWidth": 3},
       "encoding": {"x": {"field": "d", "type": "temporal", "axis": null}, "y": {"field": "s200", "type": "quantitative"}}},
      {"data": {"name": "sm"},
       "transform": [{"window": [{"op": "lead", "field": "d", "as": "d2"}, {"op": "lead", "field": "s120", "as": "n120"}], "sort": [{"field": "d"}]}, {"filter": "isValid(datum.d2)"}],
       "mark": {"type": "rule", "strokeWidth": 2, "strokeCap": "round"},
       "encoding": {"x": {"field": "d", "type": "temporal", "axis": null}, "x2": {"field": "d2"}, "y": {"field": "s120", "type": "quantitative"}, "y2": {"field": "n120"},
         "color": {"condition": {"test": "datum.n120 >= datum.s120", "value": "#4ae04a"}, "value": "#ff3838"}}},
      {"data": {"name": "sm"},
       "transform": [{"window": [{"op": "lead", "field": "d", "as": "d2"}, {"op": "lead", "field": "s40", "as": "n40"}], "sort": [{"field": "d"}]}, {"filter": "isValid(datum.d2)"}],
       "mark": {"type": "rule", "strokeWidth": 1.6, "strokeCap": "round"},
       "encoding": {"x": {"field": "d", "type": "temporal", "axis": null}, "x2": {"field": "d2"}, "y": {"field": "s40", "type": "quantitative"}, "y2": {"field": "n40"},
         "color": {"condition": {"test": "datum.n40 >= datum.s40", "value": "#36e636"}, "value": "#ff3838"}}},
      {"data": {"name": "sm"}, "mark": {"type": "line", "color": "#4a6b1a", "strokeWidth": 1.6},
       "encoding": {"x": {"field": "d", "type": "temporal", "axis": null}, "y": {"field": "s20", "type": "quantitative"}}},
      {"data": {"name": "px"}, "mark": {"type": "rule", "color": "#3c3c3c", "strokeWidth": 1},
       "encoding": {"x": {"field": "d", "type": "temporal", "axis": null}, "y": {"field": "l", "type": "quantitative"}, "y2": {"field": "h"}}},
      {"data": {"name": "px"}, "mark": {"type": "bar", "size": 2.4},
       "encoding": {"x": {"field": "d", "type": "temporal", "axis": null}, "y": {"field": "o", "type": "quantitative"}, "y2": {"field": "c"},
         "color": {"condition": {"test": "datum.c >= datum.o", "value": "#3f983f"}, "value": "#a83a3a"}}},
      {"data": {"name": "px"},
       "transform": [{"window": [{"op": "mean", "field": "c", "as": "m4"}], "frame": [-3, 0], "sort": [{"field": "d"}]}],
       "mark": {"type": "line", "color": "#111111", "strokeWidth": 1.4},
       "encoding": {"x": {"field": "d", "type": "temporal", "axis": null}, "y": {"field": "m4", "type": "quantitative"}}},
      {"data": {"values": [{"d": "2025-03-11", "v": 5.64}, {"d": "2025-04-09", "v": 5.16}, {"d": "2025-05-10", "v": 5.67}]},
       "mark": {"type": "point", "shape": "circle", "size": 3120, "filled": true, "opacity": 1, "fill": "#b3b3f0", "fillOpacity": 0.55, "stroke": "#5050e6", "strokeWidth": 1.2},
       "encoding": {"x": {"field": "d", "type": "temporal", "axis": null}, "y": {"field": "v", "type": "quantitative"}}},
      {"data": {"name": "tl"}, "mark": {"type": "line", "color": "#1818ea", "strokeWidth": 2.2},
       "encoding": {"x": {"field": "d", "type": "temporal", "axis": null}, "y": {"field": "v", "type": "quantitative"}, "detail": {"field": "id"}}},
      {"data": {"values": [{"v": 6.55, "t": "6,55"}]},
       "mark": {"type": "text", "align": "left", "baseline": "bottom", "dx": 3, "dy": -2, "fontSize": 10, "color": "#333333"},
       "encoding": {"x": {"datum": {"year": 2024, "month": "sep", "date": 4}, "type": "temporal", "axis": null}, "y": {"field": "v", "type": "quantitative"}, "text": {"field": "t"}}},
      {"data": {"values": [{"t": "ProRealTime.com - Fin de Día"}]},
       "mark": {"type": "text", "align": "left", "baseline": "bottom", "dx": 3, "dy": -1, "fontSize": 10, "color": "#333333"},
       "encoding": {"x": {"datum": {"year": 2024, "month": "sep", "date": 4}, "type": "temporal", "axis": null}, "y": {"datum": 3.727, "type": "quantitative"}, "text": {"field": "t"}}},
      {"data": {"values": [{"v": 6.8325}, {"v": 6.5}, {"v": 6.281}, {"v": 5.79}, {"v": 5.4088}, {"v": 4.985}]},
       "mark": {"type": "bar", "orient": "horizontal", "size": 10, "fill": "#ffffff", "stroke": "#a5a5a5", "strokeDash": [2, 1], "strokeWidth": 0.8},
       "encoding": {"x": {"datum": {"year": 2025, "month": "jul", "date": 3}, "type": "temporal", "axis": null}, "x2": {"datum": {"year": 2025, "month": "jul", "date": 15}}, "y": {"field": "v", "type": "quantitative"}}},
      {"data": {"values": [{"v": 6.5}]},
       "mark": {"type": "bar", "orient": "horizontal", "size": 10, "fill": "#f4c20d", "stroke": "#c89a00", "strokeWidth": 0.8},
       "encoding": {"x": {"datum": {"year": 2025, "month": "jul", "date": 3}, "type": "temporal", "axis": null}, "x2": {"datum": {"year": 2025, "month": "jul", "date": 15}}, "y": {"field": "v", "type": "quantitative"}}},
      {"data": {"values": [{"v": 5.79}]},
       "mark": {"type": "bar", "orient": "horizontal", "size": 10, "fill": "#ccf5cc", "stroke": "#8ed88e", "strokeWidth": 0.8},
       "encoding": {"x": {"datum": {"year": 2025, "month": "jul", "date": 3}, "type": "temporal", "axis": null}, "x2": {"datum": {"year": 2025, "month": "jul", "date": 15}}, "y": {"field": "v", "type": "quantitative"}}},
      {"data": {"values": [{"v": 6.8325, "t": "6,8325"}, {"v": 6.281, "t": "6,2810"}, {"v": 5.79, "t": "5,7900"}, {"v": 5.4088, "t": "5,4088"}]},
       "mark": {"type": "text", "align": "left", "dx": 1.5, "fontSize": 8.5},
       "encoding": {"x": {"datum": {"year": 2025, "month": "jul", "date": 3}, "type": "temporal", "axis": null}, "y": {"field": "v", "type": "quantitative"}, "text": {"field": "t"},
         "fill": {"field": "t", "type": "nominal", "scale": {"domain": ["6,8325", "6,50", "6,2810", "5,7900", "5,4088", "4,985"], "range": ["#555555", "#1a1a1a", "#5c7a1c", "#22c822", "#2fb92f", "#17a817"]}, "legend": null}}},
      {"data": {"values": [{"v": 6.5, "t": "6,50"}, {"v": 4.985, "t": "4,985"}]},
       "mark": {"type": "text", "align": "left", "dx": 1.5, "fontSize": 10, "fontWeight": "bold"},
       "encoding": {"x": {"datum": {"year": 2025, "month": "jul", "date": 3}, "type": "temporal", "axis": null}, "y": {"field": "v", "type": "quantitative"}, "text": {"field": "t"},
         "fill": {"field": "t", "type": "nominal", "scale": {"domain": ["6,8325", "6,50", "6,2810", "5,7900", "5,4088", "4,985"], "range": ["#555555", "#1a1a1a", "#5c7a1c", "#22c822", "#2fb92f", "#17a817"]}, "legend": null}}}
    ]
  },
  {
    "width": 651, "height": 55,
    "layer": [
      {"data": {"values": [{"n": "MACD (12 26 9)"}]}, "mark": {"type": "point", "filled": true, "size": 0, "opacity": 1},
       "encoding": {"color": {"field": "n", "type": "nominal", "scale": {"range": ["#4a5fe0"]}, "legend": {"title": null, "legendX": 3, "legendY": 2, "fillColor": "#ffffff", "strokeColor": "#a0a0a0"}}}},
      {"data": {"name": "ind"}, "mark": {"type": "bar", "size": 8.6},
       "encoding": {
         "x": {"field": "d", "type": "temporal", "scale": {"domain": [{"year": 2024, "month": "sep", "date": 4}, {"year": 2025, "month": "jul", "date": 2}], "nice": false, "padding": 0}, "axis": null},
         "y": {"field": "m", "type": "quantitative", "scale": {"domain": [-0.111, 0.378], "zero": false, "nice": false, "padding": 0}, "axis": {"orient": "right", "title": null, "values": [0.2], "labelExpr": "replace(format(datum.value, '~g'), '.', ',')"}},
         "y2": {"field": "s"},
         "color": {"condition": {"test": "datum.m >= datum.s", "value": "#c8f0c3"}, "value": "#f5caca"}}},
      {"data": {"name": "ind"}, "mark": {"type": "rule", "strokeWidth": 2},
       "encoding": {"x": {"field": "d", "type": "temporal", "axis": null}, "y": {"field": "h", "type": "quantitative"}, "y2": {"datum": 0},
         "color": {"condition": {"test": "datum.h >= 0", "value": "#2fc42f"}, "value": "#e04848"}}},
      {"data": {"values": [{}]}, "mark": {"type": "rule", "color": "#4b4bdc", "strokeWidth": 1},
       "encoding": {"y": {"datum": 0, "type": "quantitative"}}},
      {"data": {"name": "ind"}, "mark": {"type": "line", "color": "#ec8474", "strokeWidth": 1.4},
       "encoding": {"x": {"field": "d", "type": "temporal", "axis": null}, "y": {"field": "s", "type": "quantitative"}}},
      {"data": {"name": "ind"}, "mark": {"type": "line", "color": "#3b4fe0", "strokeWidth": 1.4},
       "encoding": {"x": {"field": "d", "type": "temporal", "axis": null}, "y": {"field": "m", "type": "quantitative"}}},
      {"data": {"values": [{"v": 0.3434, "t": "0,3434"}]},
       "mark": {"type": "text", "align": "left", "dx": 1.5, "dy": -3, "fontSize": 8.5, "color": "#3b4fe0"},
       "encoding": {"x": {"datum": {"year": 2025, "month": "jul", "date": 3}, "type": "temporal", "axis": null}, "y": {"field": "v", "type": "quantitative"}, "text": {"field": "t"}}},
      {"data": {"values": [{"v": 0.3164, "t": "0,3164"}]},
       "mark": {"type": "text", "align": "left", "dx": 1.5, "dy": 4.5, "fontSize": 8, "color": "#ec8474"},
       "encoding": {"x": {"datum": {"year": 2025, "month": "jul", "date": 3}, "type": "temporal", "axis": null}, "y": {"field": "v", "type": "quantitative"}, "text": {"field": "t"}}},
      {"data": {"values": [{"v": 0.027}]},
       "mark": {"type": "bar", "orient": "horizontal", "size": 10, "fill": "#ffffff", "stroke": "#a5a5a5", "strokeDash": [2, 1], "strokeWidth": 0.8},
       "encoding": {"x": {"datum": {"year": 2025, "month": "jul", "date": 3}, "type": "temporal", "axis": null}, "x2": {"datum": {"year": 2025, "month": "jul", "date": 15}}, "y": {"field": "v", "type": "quantitative"}}},
      {"data": {"values": [{"v": 0.027, "t": "0,0270"}]},
       "mark": {"type": "text", "align": "left", "dx": 1.5, "fontSize": 8.5, "color": "#2fb92f"},
       "encoding": {"x": {"datum": {"year": 2025, "month": "jul", "date": 3}, "type": "temporal", "axis": null}, "y": {"field": "v", "type": "quantitative"}, "text": {"field": "t"}}}
    ]
  },
  {
    "width": 651, "height": 45,
    "layer": [
      {"data": {"values": [{"n": "Estocástico (26 8 5)"}]}, "mark": {"type": "point", "filled": true, "size": 0, "opacity": 1},
       "encoding": {"color": {"field": "n", "type": "nominal", "scale": {"range": ["#d63030"]}, "legend": {"title": null, "legendX": 3, "legendY": 2, "fillColor": "#ffffff", "strokeColor": "#a0a0a0"}}}},
      {"data": {"name": "ind"}, "mark": {"type": "area", "color": "#c4b6f0", "opacity": 0.75},
       "encoding": {
         "x": {"field": "d", "type": "temporal", "scale": {"domain": [{"year": 2024, "month": "sep", "date": 4}, {"year": 2025, "month": "jul", "date": 2}], "nice": false, "padding": 0}, "axis": null},
         "y": {"field": "k", "type": "quantitative", "scale": {"domain": [-6, 110], "zero": false, "nice": false, "padding": 0}, "axis": {"orient": "right", "title": null, "values": [0, 50]}},
         "y2": {"field": "kd"}}},
      {"data": {"values": [{"v": 80}, {"v": 20}]}, "mark": {"type": "rule", "color": "#4b4bdc", "strokeWidth": 1},
       "encoding": {"y": {"field": "v", "type": "quantitative"}}},
      {"data": {"name": "ind"}, "mark": {"type": "line", "color": "#f08a8a", "strokeWidth": 1, "strokeDash": [3, 2]},
       "encoding": {"x": {"field": "d", "type": "temporal", "axis": null}, "y": {"field": "kd", "type": "quantitative"}}},
      {"data": {"name": "ind"},
       "transform": [{"window": [{"op": "lead", "field": "d", "as": "d2"}, {"op": "lead", "field": "k", "as": "k2"}], "sort": [{"field": "d"}]}, {"filter": "isValid(datum.d2)"}],
       "mark": {"type": "rule", "strokeWidth": 1.6, "strokeCap": "round"},
       "encoding": {"x": {"field": "d", "type": "temporal", "axis": null}, "x2": {"field": "d2"}, "y": {"field": "k", "type": "quantitative"}, "y2": {"field": "k2"},
         "color": {"condition": {"test": "datum.k2 >= datum.k", "value": "#30bb30"}, "value": "#ee3a3a"}}},
      {"data": {"values": [{"v": 94.664, "t": "94,664"}]},
       "mark": {"type": "text", "align": "left", "dx": 1.5, "dy": -3, "fontSize": 8.5, "color": "#ec8a7a"},
       "encoding": {"x": {"datum": {"year": 2025, "month": "jul", "date": 3}, "type": "temporal", "axis": null}, "y": {"field": "v", "type": "quantitative"}, "text": {"field": "t"}}},
      {"data": {"values": [{"v": 92.866, "t": "92,866"}]},
       "mark": {"type": "text", "align": "left", "dx": 1.5, "dy": 6, "fontSize": 9, "fontWeight": "bold", "color": "#e02424"},
       "encoding": {"x": {"datum": {"year": 2025, "month": "jul", "date": 3}, "type": "temporal", "axis": null}, "y": {"field": "v", "type": "quantitative"}, "text": {"field": "t"}}}
    ]
  },
  {
    "width": 651, "height": 27,
    "layer": [
      {"data": {"values": [{"n": "Blai5 Koncorde v.09 (15)"}]}, "mark": {"type": "point", "filled": true, "size": 0, "opacity": 1},
       "encoding": {"color": {"field": "n", "type": "nominal", "scale": {"range": ["#b0b0b0"]}, "legend": {"title": null, "legendX": 3, "legendY": 2, "fillColor": "#ffffff", "strokeColor": "#a0a0a0"}}}},
      {"data": {"name": "ind"}, "mark": {"type": "area", "color": "#1fcf1f"},
       "encoding": {
         "x": {"field": "d", "type": "temporal", "scale": {"domain": [{"year": 2024, "month": "sep", "date": 4}, {"year": 2025, "month": "jul", "date": 2}], "nice": false, "padding": 0}, "axis": null},
         "y": {"field": "kg", "type": "quantitative", "scale": {"domain": [-103, 269], "zero": false, "nice": false, "padding": 0}, "axis": {"orient": "right", "title": null, "values": [200]}},
         "y2": {"datum": 0}}},
      {"data": {"name": "ind"}, "mark": {"type": "area", "color": "#f7a232"},
       "encoding": {"x": {"field": "d", "type": "temporal", "axis": null}, "y": {"field": "ko", "type": "quantitative"}, "y2": {"datum": 0}}},
      {"data": {"name": "ind"}, "mark": {"type": "area", "color": "#2447c8"},
       "encoding": {"x": {"field": "d", "type": "temporal", "axis": null}, "y": {"field": "kb", "type": "quantitative"}, "y2": {"datum": 0}}},
      {"data": {"name": "ind"}, "mark": {"type": "line", "color": "#0d4d0d", "strokeWidth": 0.8},
       "encoding": {"x": {"field": "d", "type": "temporal", "axis": null}, "y": {"field": "kg", "type": "quantitative"}}},
      {"data": {"name": "ind"}, "mark": {"type": "line", "color": "#ee3030", "strokeWidth": 1},
       "encoding": {"x": {"field": "d", "type": "temporal", "axis": null}, "y": {"field": "kr", "type": "quantitative"}}},
      {"data": {"values": [{"v": 15.528}]},
       "mark": {"type": "bar", "orient": "horizontal", "size": 10, "fill": "#ffffff", "stroke": "#a5a5a5", "strokeDash": [2, 1], "strokeWidth": 0.8},
       "encoding": {"x": {"datum": {"year": 2025, "month": "jul", "date": 3}, "type": "temporal", "axis": null}, "x2": {"datum": {"year": 2025, "month": "jul", "date": 15}}, "y": {"field": "v", "type": "quantitative"}}},
      {"data": {"values": [{"v": 15.528, "t": "15,528"}]},
       "mark": {"type": "text", "align": "left", "dx": 1.5, "fontSize": 8.5, "color": "#1fa8b0"},
       "encoding": {"x": {"datum": {"year": 2025, "month": "jul", "date": 3}, "type": "temporal", "axis": null}, "y": {"field": "v", "type": "quantitative"}, "text": {"field": "t"}}}
    ]
  },
  {
    "width": 651, "height": 33,
    "layer": [
      {"data": {"values": [{"n": "Mom (12)"}]}, "mark": {"type": "point", "filled": true, "size": 0, "opacity": 1},
       "encoding": {"color": {"field": "n", "type": "nominal", "scale": {"range": ["#111111"]}, "legend": {"title": null, "legendX": 3, "legendY": 2, "fillColor": "#ffffff", "strokeColor": "#a0a0a0"}}}},
      {"data": {"name": "ind"}, "mark": {"type": "bar", "size": 8.6},
       "encoding": {
         "x": {"field": "d", "type": "temporal", "scale": {"domain": [{"year": 2024, "month": "sep", "date": 4}, {"year": 2025, "month": "jul", "date": 2}], "nice": false, "padding": 0}, "axis": null},
         "y": {"field": "mo", "type": "quantitative", "scale": {"domain": [-0.56, 1.35], "zero": false, "nice": false, "padding": 0}, "axis": {"orient": "right", "title": null, "values": [1]}},
         "y2": {"datum": 0},
         "color": {"condition": {"test": "datum.mo >= 0", "value": "#bcc2de"}, "value": "#e2bcbc"}}},
      {"data": {"values": [{}]}, "mark": {"type": "rule", "color": "#4b4bdc", "strokeWidth": 1},
       "encoding": {"y": {"datum": 0, "type": "quantitative"}}},
      {"data": {"name": "ind"},
       "transform": [{"window": [{"op": "lead", "field": "d", "as": "d2"}, {"op": "lead", "field": "mo", "as": "mo2"}], "sort": [{"field": "d"}]}, {"filter": "isValid(datum.d2)"}],
       "mark": {"type": "rule", "strokeWidth": 1, "strokeCap": "round"},
       "encoding": {"x": {"field": "d", "type": "temporal", "axis": null}, "x2": {"field": "d2"}, "y": {"field": "mo", "type": "quantitative"}, "y2": {"field": "mo2"},
         "color": {"condition": {"test": "datum.mo2 >= datum.mo", "value": "#2a2a2a"}, "value": "#e07070"}}},
      {"data": {"values": [{"v": 0.24}]},
       "mark": {"type": "bar", "orient": "horizontal", "size": 10, "fill": "#ffffff", "stroke": "#a5a5a5", "strokeDash": [2, 1], "strokeWidth": 0.8},
       "encoding": {"x": {"datum": {"year": 2025, "month": "jul", "date": 3}, "type": "temporal", "axis": null}, "x2": {"datum": {"year": 2025, "month": "jul", "date": 15}}, "y": {"field": "v", "type": "quantitative"}}},
      {"data": {"values": [{"v": 0.24, "t": "0,2400"}]},
       "mark": {"type": "text", "align": "left", "dx": 1.5, "fontSize": 8.5, "color": "#e0705a"},
       "encoding": {"x": {"datum": {"year": 2025, "month": "jul", "date": 3}, "type": "temporal", "axis": null}, "y": {"field": "v", "type": "quantitative"}, "text": {"field": "t"}}}
    ]
  },
  {
    "width": 651, "height": 36,
    "layer": [
      {"data": {"values": [{"n": "FILTRO RSI"}]}, "mark": {"type": "point", "filled": true, "size": 0, "opacity": 1},
       "encoding": {"color": {"field": "n", "type": "nominal", "scale": {"range": ["#2440e0"]}, "legend": {"title": null, "legendX": 3, "legendY": 2, "fillColor": "#ffffff", "strokeColor": "#a0a0a0"}}}},
      {"data": {"name": "ind"}, "mark": {"type": "area", "color": "#a9c6ef", "opacity": 0.9},
       "encoding": {
         "x": {"field": "d", "type": "temporal", "scale": {"domain": [{"year": 2024, "month": "sep", "date": 4}, {"year": 2025, "month": "jul", "date": 2}], "nice": false, "padding": 0},
               "axis": {"title": null, "values": [{"year": 2024, "month": "oct", "date": 1}, {"year": 2024, "month": "nov", "date": 1}, {"year": 2024, "month": "dec", "date": 1}, {"year": 2025, "month": "jan", "date": 1}, {"year": 2025, "month": "feb", "date": 1}, {"year": 2025, "month": "mar", "date": 1}, {"year": 2025, "month": "apr", "date": 1}, {"year": 2025, "month": "may", "date": 1}, {"year": 2025, "month": "jun", "date": 1}],
                        "labelExpr": "month(datum.value) == 0 ? '2025' : ['ene','feb','mar','abr','may','jun','jul','ago','sep','oct','nov','dic'][month(datum.value)]",
                        "labelFontSize": {"condition": {"test": "month(datum.value) == 0", "value": 11.5}, "value": 10},
                        "labelFontWeight": {"condition": {"test": "month(datum.value) == 0", "value": "bold"}, "value": "normal"},
                        "tickSize": 2, "labelPadding": -1, "domain": false, "labelColor": "#222222"}},
         "y": {"field": "r", "type": "quantitative", "scale": {"domain": [0, 112.5], "zero": false, "nice": false, "padding": 0}, "axis": {"orient": "right", "title": null, "values": [100]}},
         "y2": {"field": "rs"}}},
      {"data": {"name": "ind"}, "mark": {"type": "line", "color": "#f4f400", "strokeWidth": 3.5},
       "encoding": {"x": {"field": "d", "type": "temporal"}, "y": {"field": "rs", "type": "quantitative"}}},
      {"data": {"name": "ind"},
       "transform": [{"window": [{"op": "lead", "field": "d", "as": "d2"}, {"op": "lead", "field": "r", "as": "r2"}], "sort": [{"field": "d"}]}, {"filter": "isValid(datum.d2)"}],
       "mark": {"type": "rule", "strokeWidth": 2.6, "strokeCap": "round"},
       "encoding": {"x": {"field": "d", "type": "temporal"}, "x2": {"field": "d2"}, "y": {"field": "r", "type": "quantitative"}, "y2": {"field": "r2"},
         "color": {"condition": {"test": "datum.r2 >= datum.r", "value": "#1f35ea"}, "value": "#ff3a1a"}}},
      {"data": {"values": [{"v": 63.996}]},
       "mark": {"type": "bar", "orient": "horizontal", "size": 10, "fill": "#f7f7b0", "stroke": "#c8c870", "strokeWidth": 0.8},
       "encoding": {"x": {"datum": {"year": 2025, "month": "jul", "date": 3}, "type": "temporal"}, "x2": {"datum": {"year": 2025, "month": "jul", "date": 15}}, "y": {"field": "v", "type": "quantitative"}}},
      {"data": {"values": [{"v": 63.996, "t": "63,996"}]},
       "mark": {"type": "text", "align": "left", "dx": 1.5, "fontSize": 8.5, "color": "#a8a820"},
       "encoding": {"x": {"datum": {"year": 2025, "month": "jul", "date": 3}, "type": "temporal"}, "y": {"field": "v", "type": "quantitative"}, "text": {"field": "t"}}},
      {"data": {"values": [{"v": 30.907, "t": "30,907"}]},
       "mark": {"type": "text", "align": "left", "dx": 1.5, "dy": 1, "fontSize": 8.5, "color": "#f04a20"},
       "encoding": {"x": {"datum": {"year": 2025, "month": "jul", "date": 3}, "type": "temporal"}, "y": {"field": "v", "type": "quantitative"}, "text": {"field": "t"}}}
    ]
  }
]
}
